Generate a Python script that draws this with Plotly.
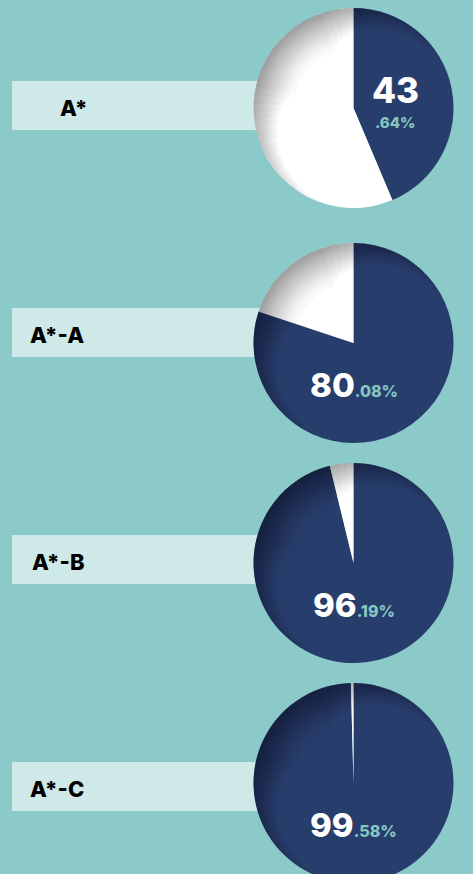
import plotly.graph_objects as go

# ---- data ----
categories = ["A*", "A*-A", "A*-B", "A*-C"]
percent_values = [43.64, 80.08, 96.19, 99.58]

# ---- styling / geometry (pixels) ----
W, H = 473, 884  # canvas slightly taller than the 874px view so the last pie is cut off
BG = "#8BCAC8"
NAVY = "#273D6B"
REST = "#FFFFFF"
BAR = "#CFE9E8"
TEAL_TXT = "#84C6C2"
FONT = "Inter"

pie_cx = 353.5
pie_r = 100
pie_cy = [108, 343, 563, 783]
bar_cy = [105.5, 332.5, 559.5, 786.5]
bar_h = 49
bar_x0, bar_x1 = 12, 262
label_x = [58, 28, 30, 28]

# inner-shadow decoration (style only): crescent of stacked translucent arcs
N_LAYER = 18
shadow_alpha = 0.024
light_dir = 312  # degrees clockwise from 12 o'clock
layers = []
for k in range(N_LAYER):
    t = k / (N_LAYER - 1)
    layers.append((0.60 + 0.38 * t ** 0.7, 60 + 160 * t))  # (hole, arc width deg)


def px_x(x):
    return x / W


def px_y(y):
    return 1 - y / H


fig = go.Figure()

for i, (cat, v) in enumerate(zip(categories, percent_values)):
    cy = pie_cy[i]
    y0 = max(0.0, px_y(cy + pie_r))
    y1 = min(1.0, px_y(cy - pie_r))
    dom = dict(x=[px_x(pie_cx - pie_r), px_x(pie_cx + pie_r)], y=[y0, y1])
    fig.add_trace(go.Pie(
        values=[v, 100 - v],
        labels=[cat, "other"],
        marker=dict(colors=[NAVY, REST], line=dict(width=0)),
        direction="clockwise",
        rotation=0,
        sort=False,
        textinfo="none",
        hoverinfo="label+value",
        showlegend=False,
        domain=dom,
    ))
    for hole, arc in layers:
        rot = (light_dir - arc / 2) % 360
        if rot > 180:
            rot -= 360
        fig.add_trace(go.Pie(
            values=[arc, 360 - arc],
            labels=["shade", "clear"],
            marker=dict(colors=[f"rgba(0,0,0,{shadow_alpha})", "rgba(0,0,0,0)"],
                        line=dict(width=0)),
            hole=hole,
            direction="clockwise",
            rotation=rot,
            sort=False,
            textinfo="none",
            hoverinfo="skip",
            showlegend=False,
            domain=dom,
        ))

shapes = []
annotations = []
for i, cat in enumerate(categories):
    cy = bar_cy[i]
    shapes.append(dict(
        type="rect", xref="paper", yref="paper", layer="below",
        x0=px_x(bar_x0), x1=px_x(bar_x1),
        y0=px_y(cy + bar_h / 2), y1=px_y(cy - bar_h / 2),
        fillcolor=BAR, line=dict(width=0),
    ))
    annotations.append(dict(
        text=cat, xref="paper", yref="paper",
        x=px_x(label_x[i]), y=px_y(cy + 2), xanchor="left", yanchor="middle",
        showarrow=False, font=dict(family=FONT, size=22, color="#000000", weight=800),
    ))

for i, v in enumerate(percent_values):
    whole, dec = f"{v:.2f}".split(".")
    cy = pie_cy[i]
    if i == 0:
        annotations.append(dict(
            text=whole, xref="paper", yref="paper",
            x=px_x(395.5), y=px_y(cy - 17.5), xanchor="center", yanchor="middle",
            showarrow=False, font=dict(family=FONT, size=35, color="#FFFFFF", weight=800),
        ))
        annotations.append(dict(
            text=f".{dec}%", xref="paper", yref="paper",
            x=px_x(395.5), y=px_y(cy + 15), xanchor="center", yanchor="middle",
            showarrow=False, font=dict(family=FONT, size=15, color=TEAL_TXT, weight=800),
        ))
    else:
        annotations.append(dict(
            text=(f"{whole}<span style='font-size:16px;color:{TEAL_TXT}'>"
                  f".{dec}%</span>"),
            xref="paper", yref="paper",
            x=px_x(pie_cx), y=px_y(cy + 42), xanchor="center", yanchor="middle",
            showarrow=False, font=dict(family=FONT, size=33, color="#FFFFFF", weight=800),
        ))

fig.update_layout(
    width=W, height=H,
    margin=dict(l=0, r=0, t=0, b=0),
    paper_bgcolor=BG, plot_bgcolor=BG,
    shapes=shapes, annotations=annotations,
)

fig.write_html(
    "out.html",
    config={"displayModeBar": False},
    post_script="document.body.style.margin='0';document.body.style.overflow='hidden';",
)
